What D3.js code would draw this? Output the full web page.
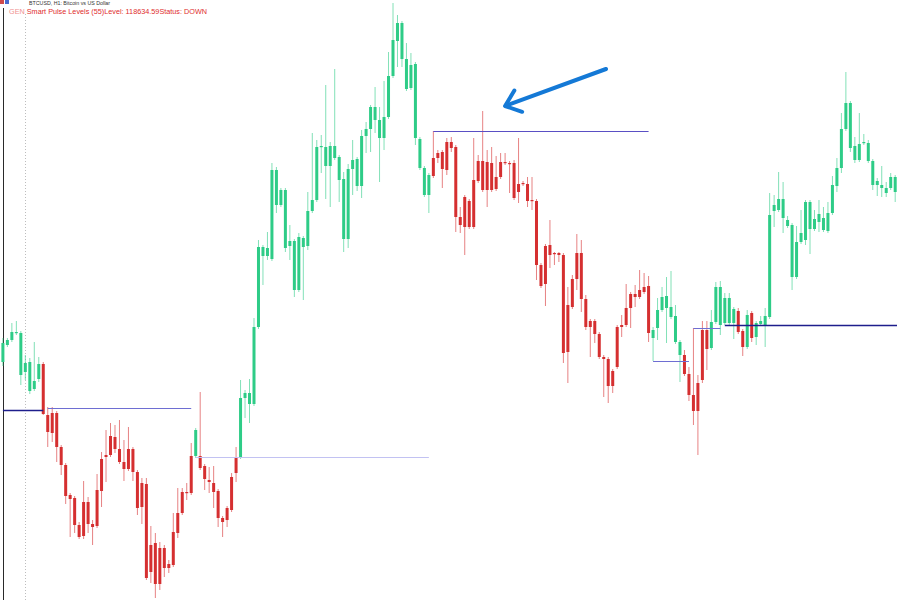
<!DOCTYPE html>
<html><head><meta charset="utf-8">
<script src="https://cdn.jsdelivr.net/npm/d3@7"></script>
<style>html,body{margin:0;padding:0;background:#fff;overflow:hidden}</style>
</head><body><svg id="chart" width="897" height="600"></svg>
<script>
// BTCUSD H1 candles (price values)
const openP = [
118265,118435,118485,118565,118555,118165,118265,117995,118095,118245,
117735,117555,117755,117415,117235,116935,116905,116635,116525,116865,
116645,116625,116975,117315,117335,117515,117395,117265,117195,117395,
117165,116815,117045,116165,116455,116045,116405,116205,116235,116555,
116755,116965,116955,117325,117325,117225,117085,117055,116975,116705,
116685,116785,117155,117315,117905,117955,117845,118615,119415,119325,
119295,120185,119835,119985,119425,119475,118985,119505,119425,119775,
119885,120415,120415,120225,120425,120315,120095,119495,120195,120295,
120025,120525,120595,120815,120685,120505,120715,121125,121475,121655,
121295,121005,121245,120495,120205,119935,120125,120305,120365,120185,
120465,120415,119715,119615,119875,119615,120075,120275,119985,120255,
119995,120115,120265,120255,120255,119965,120045,120045,119875,119875,
119235,119045,119435,119345,119355,119335,118365,118815,119095,119355,
118895,118615,118675,118545,118315,118295,118025,118215,118615,118635,
118805,118945,118915,118965,119025,118585,118605,118785,118925,118815,
118725,118465,118335,118145,117935,117775,118085,118585,118405,118665,
119015,118655,118905,118655,118775,118575,118415,118755,118515,118645,
118635,118715,119775,119785,119895,119685,119635,119115,119465,119485,
119865,119595,119665,119705,119575,119755,120025,120205,120595,120855,
120425,120285,120455,120455,120275,120035,120035,120005,120005,120115];
const highP = [
118505,118505,118655,118675,118575,118335,118305,118465,118315,118265,
117815,117815,117775,117435,117255,116955,116925,116665,117075,116915,
116685,117145,117365,117585,117655,117635,117685,117485,117615,117415,
117185,117105,117105,116625,116555,116465,116435,116285,116755,117005,
117005,117055,117455,117605,117965,117245,117215,117225,116995,116725,
116825,117155,117415,118085,117985,118095,118705,119485,119435,119565,
120255,120215,120005,120005,119635,119495,119555,119525,119965,120555,
120485,120535,121035,120465,121195,120335,120165,120245,120485,120315,
120585,120665,120835,121015,120815,121075,121365,121855,121735,121675,
121455,121355,121265,120515,120225,120155,120575,120385,120385,120505,
120515,120435,119815,119935,119895,120505,120335,120775,120385,120415,
120325,120355,120355,120275,120285,120505,120075,120115,120115,119895,
119255,119445,119685,119365,119365,119355,119015,119135,119545,119485,
118935,118695,118695,118565,118335,118315,118195,118635,118735,119045,
118965,119035,119185,119155,119125,118615,118905,119015,119115,119175,
118835,118485,118385,118215,118605,118135,118675,118675,118785,119065,
119075,118955,118955,118815,118805,118595,118785,118775,118675,118725,
118805,119955,119935,120165,120065,119725,119655,119625,119785,119885,
119885,119785,119885,119815,119865,120125,120305,120755,121165,120875,
120515,120755,120545,120485,120295,120105,120225,120065,120155,120135];
const lowP = [
118225,118415,118465,118535,118035,118085,117945,117975,118065,117735,
117415,117465,117265,117135,116845,116515,116555,116495,116495,116555,
116435,116605,116815,117065,117315,117355,117245,117075,117175,117075,
116735,116645,116085,116055,115905,115985,116115,116155,116215,116505,
116735,116885,116935,117305,117185,116985,116955,116805,116615,116515,
116615,116765,117065,117295,117705,117655,117825,118595,119035,119285,
119275,119755,119815,119365,119285,118915,118965,118885,119385,119755,
119865,120155,119895,119815,120285,119865,119365,119405,119935,119975,
119905,120355,120365,120555,120065,120385,120695,121105,121215,121215,
120975,120985,120435,120185,119915,119755,120105,120255,120005,120135,
120365,119565,119555,119335,119595,119595,120055,119965,119815,119965,
119975,120095,120235,119955,119885,119855,120025,119815,119785,119085,
119005,118825,119205,119235,119265,118255,118055,118795,118985,118765,
118585,118315,118455,118295,117915,117855,117955,118195,118515,118615,
118605,118815,118895,118945,118465,118275,118485,118765,118455,118695,
118445,118065,118125,117875,117635,117335,118055,118185,118385,118645,
118535,118635,118635,118495,118545,118325,118395,118465,118435,118625,
118415,118695,119615,119765,119555,119605,118985,119095,119445,119435,
119345,119575,119565,119565,119555,119735,119965,120155,120575,120365,
120255,120265,120435,120255,119985,119925,119915,119915,119985,119865];
const closeP = [
118455,118485,118565,118555,118135,118255,117975,118075,118245,117745,
117565,117755,117415,117235,116925,116895,116635,116515,116865,116645,
116615,116985,117295,117335,117525,117395,117265,117195,117395,117165,
116805,117055,116105,116435,116045,116405,116205,116245,116565,116755,
116965,116955,117325,117585,117205,117095,117065,116965,116705,116665,
116805,117115,117315,117905,117955,117845,118615,119415,119325,119405,
120185,119835,119985,119405,119475,118985,119515,119415,119775,119885,
120415,120425,120225,120425,120305,120085,119495,120195,120285,120025,
120525,120595,120815,120685,120505,120715,121125,121485,121655,121295,
120995,121235,120505,120205,119935,120135,120305,120355,120195,120465,
120405,119715,119635,119915,119615,120085,120275,119985,120265,119985,
120115,120265,120255,120245,119905,120045,120055,119875,119885,119235,
119025,119425,119335,119355,119335,118355,118835,119095,119355,118895,
118615,118675,118545,118315,118295,118025,118175,118615,118635,118805,
118945,118915,118985,119015,118555,118505,118785,118915,118805,118715,
118465,118335,118145,117935,117775,118055,118585,118395,118665,119015,
118635,118905,118655,118795,118565,118415,118735,118505,118655,118675,
118725,119735,119835,119895,119705,119625,119115,119465,119555,119865,
119595,119695,119745,119585,119755,120035,120205,120595,120855,120405,
120285,120445,120465,120275,120035,120075,120005,119955,120115,119965];
// Trend status of the indicator, as runs of [candle count, status]
const trendRuns = [[9,"up"],[34,"down"],[1,"up"],[9,"down"],[43,"up"],[49,"down"],[7,"up"],[6,"down"],[6,"up"],[2,"down"],[1,"up"],[1,"down"],[32,"up"]];
// Pulse levels: first candle, last candle (-1 = extends to the right edge), price, kind
const levelFrom  = [0, 10, 43, 96, 145, 154, 161];
const levelTo    = [9, 42, 95, 144, 153, 160, -1];
const levelPrice = [117785, 117805, 117315, 120575, 118275, 118605, 118634.59];
const levelKind  = ["active","past","old","recent","past","past","active"];
// Annotation arrow (candle index, price)
const arrowTip  = [112.0, 120825];
const arrowTail = [134.5, 121195];
const separatorAt = 5;
const titleText = "BTCUSD, H1:  Bitcoin vs US Dollar";
const indicatorPrefix = "GEN";
const indicatorText = " Smart Pulse Levels (55)Level: 118634.59Status: DOWN";

const svg = d3.select("#chart");
const W = 897, H = 600;
const N = openP.length;
const x = d3.scaleLinear().domain([0, N - 1]).range([2.9, 895.2]);
const y = d3.scaleLinear().domain([115885, 121885]).range([H, 0]);

const trend = [];
trendRuns.forEach(([n, s]) => { for (let k = 0; k < n; k++) trend.push(s); });
const color = { up: "#2ecc87", down: "#d52f30" };
const candles = d3.range(N).map(i => ({ i, o: openP[i], h: highP[i], l: lowP[i], c: closeP[i], t: trend[i] }));

svg.append("rect").attr("width", W).attr("height", H).attr("fill", "#fff");

// period separator (dotted)
svg.append("line")
  .attr("x1", Math.round(x(separatorAt)) + 0.5).attr("x2", Math.round(x(separatorAt)) + 0.5)
  .attr("y1", 14).attr("y2", H)
  .attr("stroke", "#bdbdbd").attr("stroke-width", 1).attr("stroke-dasharray", "1,2");

// left border
svg.append("line").attr("x1", 3.5).attr("x2", 3.5).attr("y1", 8).attr("y2", H)
  .attr("stroke", "#2a2a2a").attr("stroke-width", 1);

const g = svg.append("g");
g.selectAll("line.wick").data(candles).join("line").attr("class", "wick")
  .attr("x1", d => x(d.i)).attr("x2", d => x(d.i))
  .attr("y1", d => y(d.h)).attr("y2", d => y(d.l))
  .attr("stroke", d => color[d.t]).attr("stroke-opacity", 0.6).attr("stroke-width", 1);
g.selectAll("rect.body").data(candles).join("rect").attr("class", "body")
  .attr("x", d => x(d.i) - 1.5).attr("width", 3)
  .attr("y", d => y(Math.max(d.o, d.c)))
  .attr("height", d => Math.max(1.2, Math.abs(y(d.o) - y(d.c))))
  .attr("fill", d => color[d.t]);

// levels (snapped to the pixel grid so they stay crisp)
const levelStyle = {
  active: { stroke: "#1e1e8c", width: 1.5 },
  recent: { stroke: "#5a4fc4", width: 1 },
  past:   { stroke: "#6e6ed2", width: 1 },
  old:    { stroke: "#c2c2f2", width: 1 }
};
const snap = v => Math.round(v) + 0.5;
const levels = levelPrice.map((p, k) => ({ p, from: levelFrom[k], to: levelTo[k], kind: levelKind[k] }));
svg.append("g").selectAll("line").data(levels).join("line")
  .attr("x1", d => x(d.from)).attr("x2", d => d.to < 0 ? W : x(d.to))
  .attr("y1", d => snap(y(d.p))).attr("y2", d => snap(y(d.p)))
  .attr("stroke", d => levelStyle[d.kind].stroke)
  .attr("stroke-width", d => levelStyle[d.kind].width);

// arrow annotation
const tx = x(arrowTip[0]), ty = y(arrowTip[1]);
const sx = x(arrowTail[0]), sy = y(arrowTail[1]);
const ang = Math.atan2(sy - ty, sx - tx);
const bl = 18, spread = 0.68;
const b1 = [tx + bl * Math.cos(ang - spread), ty + bl * Math.sin(ang - spread)];
const b2 = [tx + bl * Math.cos(ang + spread), ty + bl * Math.sin(ang + spread)];
const arrowG = svg.append("g").attr("fill", "none").attr("stroke", "#1479d6")
  .attr("stroke-width", 4).attr("stroke-linecap", "round").attr("stroke-linejoin", "round");
arrowG.append("line").attr("x1", sx).attr("y1", sy).attr("x2", tx + 1.5 * Math.cos(ang)).attr("y2", ty + 1.5 * Math.sin(ang));
arrowG.append("path").attr("d", d3.line()([b1, [tx, ty], b2]));

// header icons and texts
svg.append("rect").attr("x", 0).attr("y", 0).attr("width", 4).attr("height", 4).attr("fill", "#d04a4a");
svg.append("rect").attr("x", 5).attr("y", 0).attr("width", 4).attr("height", 4).attr("fill", "#4a6ad0");
svg.append("text").attr("x", 29).attr("y", 4.8)
  .attr("font-family", "Liberation Sans, Arial, sans-serif").attr("font-size", 5.5)
  .attr("fill", "#333").attr("textLength", 81).attr("lengthAdjust", "spacingAndGlyphs")
  .text(titleText);
const t2 = svg.append("text").attr("x", 9).attr("y", 13.8)
  .attr("font-family", "Liberation Sans, Arial, sans-serif").attr("font-size", 7.8)
  .attr("textLength", 198).attr("lengthAdjust", "spacingAndGlyphs");
t2.append("tspan").attr("fill", "#f09090").text(indicatorPrefix);
t2.append("tspan").attr("fill", "#e02c2c").text(indicatorText);
</script>
</body></html>
